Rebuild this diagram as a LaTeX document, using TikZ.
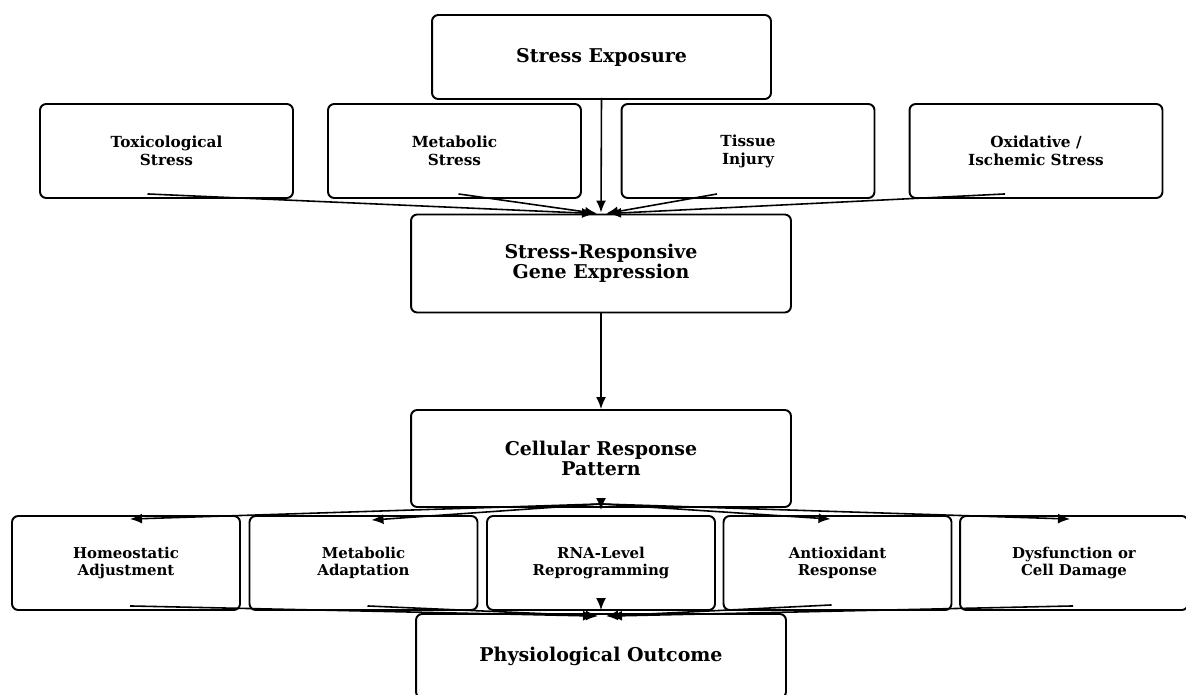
\documentclass[tikz,border=0pt]{standalone}
\usepackage{fontspec}
\setmainfont{DejaVu Serif}
\usepackage{tikz}
\usetikzlibrary{arrows.meta,calc}

\begin{document}
\begin{tikzpicture}[
  x=0.02cm, y=-0.02cm,
  box/.style={draw, line width=1.1pt, rounded corners=3.5pt, align=center, fill=white, inner sep=0pt, font=\bfseries\fontsize{10.8}{11.6}\selectfont},
  bigbox/.style={box, minimum width=7.6cm, minimum height=1.96cm},
  cause/.style={box, minimum width=5.06cm, minimum height=1.88cm, font=\bfseries\fontsize{8.7}{10.2}\selectfont},
  effect/.style={box, minimum width=4.56cm, minimum height=1.88cm, font=\bfseries\fontsize{8.5}{10}\selectfont},
  edge/.style={-{Latex[length=2.4mm,width=2mm]}, line width=0.9pt}
]
\useasboundingbox (0,0) rectangle (1186,695);
\clip (0,0) rectangle (1186,695);

% top
\node[box, minimum width=6.78cm, minimum height=1.68cm] (expo) at (601.5,57) {Stress Exposure};

% stressors
\node[cause] (tox) at (166.5,151) {Toxicological\\Stress};
\node[cause] (meta) at (454.5,151) {Metabolic\\Stress};
\node[cause] (tissue) at (748,151) {Tissue\\Injury};
\node[cause] (oxi) at (1036,151) {Oxidative /\\Ischemic Stress};

\node[bigbox] (gene) at (601,263.5) {Stress-Responsive\\Gene Expression};
\node[bigbox, minimum height=1.94cm] (cell) at (601,458.5) {Cellular Response\\Pattern};

% responses
\node[effect] (homeo) at (126,563) {Homeostatic\\Adjustment};
\node[effect] (adapt) at (363.5,563) {Metabolic\\Adaptation};
\node[effect] (rna) at (601,563) {RNA-Level\\Reprogramming};
\node[effect] (antiox) at (837.5,563) {Antioxidant\\Response};
\node[effect] (dys) at (1074,563) {Dysfunction or\\Cell Damage};

\node[box, minimum width=7.4cm, minimum height=1.68cm] (outcome) at (601,656) {Physiological Outcome};

\draw[edge] ($(expo.south)+(0,-2)$) -- ($(gene.north)+(0,-1)$);
\draw[edge] ($(tox.south)+(-19,-5)$) -- ($(gene.north)+(-7,0)$);
\draw[edge] ($(meta.south)+(4,-5)$) -- ($(gene.north)+(-4,0)$);
\draw[edge] ($(tissue.south)+(-31,-5)$) -- ($(gene.north)+(5,0)$);
\draw[edge] ($(oxi.south)+(-31,-5)$) -- ($(gene.north)+(8,0)$);

\draw[edge] (gene) -- (cell);

\draw[edge] ($(cell.south)+(0,-4)$) -- ($(homeo.north)+(4,4)$);
\draw[edge] ($(cell.south)+(0,-4)$) -- ($(adapt.north)+(8,5)$);
\draw[edge] ($(cell.south)+(0,-4)$) -- ($(rna.north)+(0,-5)$);
\draw[edge] ($(cell.south)+(0,-4)$) -- ($(antiox.north)+(-7,4)$);
\draw[edge] ($(cell.south)+(0,-4)$) -- ($(dys.north)+(-4,4)$);

\draw[edge] ($(homeo.south)+(4,-5)$) -- ($(outcome.north)+(-6,3)$);
\draw[edge] ($(adapt.south)+(4,-5)$) -- ($(outcome.north)+(-3,3)$);
\draw[edge] ($(rna.south)+(0,-5)$) -- ($(outcome.north)+(0,-3)$);
\draw[edge] ($(antiox.south)+(-6,-6)$) -- ($(outcome.north)+(5,3)$);
\draw[edge] ($(dys.south)+(-1,-5)$) -- ($(outcome.north)+(9,3)$);
\end{tikzpicture}
\end{document}
